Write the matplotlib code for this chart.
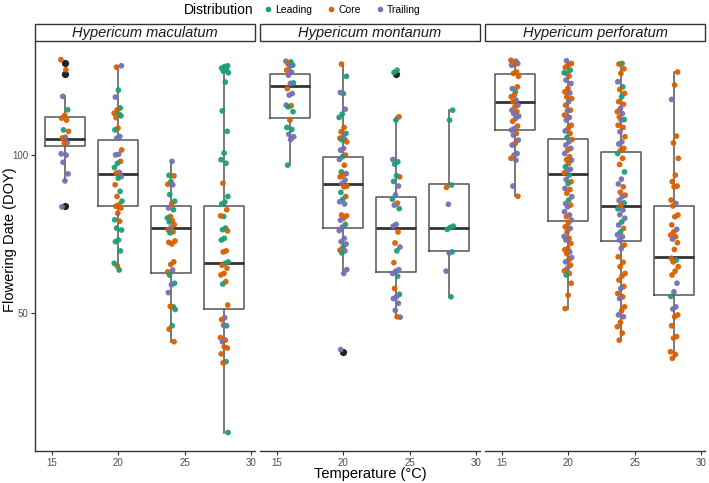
import numpy as np
import matplotlib
matplotlib.use("Agg")
import matplotlib.pyplot as plt
from matplotlib.patches import Rectangle
from matplotlib.lines import Line2D

plt.rcParams['font.family'] = ['Liberation Sans', 'DejaVu Sans']

# ---------------- data ----------------
species = ["Hypericum maculatum", "Hypericum montanum", "Hypericum perforatum"]
temps = [16, 20, 24, 28]
dist_names = ["Leading", "Core", "Trailing"]
dist_colors = {"L": "#1B9E77", "C": "#D95F02", "T": "#7570B3"}
x_ticks = [15, 20, 25, 30]
y_ticks = [50, 100]

# Hypericum maculatum
mac16_doy = [152, 145.4, 129.4, 122, 119, 117.6, 116.6, 111.7, 111, 108.2, 107.8, 105.7, 105.4,
             100.6, 100, 96.9, 92.1, 89.3, 79.7]
mac16_dist = ["C", "C", "T", "L", "C", "C", "C", "L", "C", "T", "C", "T", "C",
              "T", "T", "T", "T", "T", "T"]
mac20_doy = [147.1, 148, 133, 129, 123, 122, 120.2, 119.7, 117.9, 118.8, 112.6, 111.7, 108.5, 107.7,
             102.3, 100.4, 100.1, 97.3, 96.5, 94.7, 92.7, 92.4, 91, 90.4, 87.8, 85.3, 83.4, 81.7,
             80.4, 79.9, 79.3, 77.5, 75.3, 74.8, 72.6, 72, 68.9, 68.4, 65.7, 61.5, 62.2, 60.4]
mac20_dist = ["C", "T", "L", "T", "L", "C", "C", "L", "C", "L", "C", "L", "T", "T",
              "C", "T", "T", "C", "L", "L", "T", "C", "T", "L", "C", "L", "C", "L",
              "C", "C", "C", "C", "L", "C", "L", "L", "L", "L", "L", "C", "L", "L"]
mac24_doy = [97.3, 91.5, 91.3, 89, 88, 87.8, 84.1, 81.7, 80.7, 79.3, 78.7, 76.4, 75.9, 75, 74.6,
             73.7, 72.8, 72.1, 71.4, 71.1, 68.6, 67.7, 68.2, 62.6, 61.9, 59.9, 60.4, 59.1, 57,
             56.6, 54.7, 51.4, 51.5, 50.8, 47.3, 46.6, 44.1]
mac24_dist = ["T", "L", "C", "L", "C", "T", "L", "L", "C", "T", "L", "C", "L", "C", "L",
              "C", "T", "C", "C", "L", "C", "C", "C", "C", "C", "C", "T", "L", "L",
              "T", "T", "L", "C", "L", "L", "C", "C"]
mac28_doy = [148, 147.5, 146.5, 145.5, 144.5, 143.5, 137.8, 121.4, 111, 100.9, 98, 96.5, 88.4, 83.4,
             81.4, 80.7, 78.7, 76.4, 76.6, 72.6, 72.1, 71.7, 69.4, 68.9, 65.7, 65.4, 62.6, 62.2,
             61.7, 60.9, 59.5, 59.1, 57.4, 56.8, 51.8, 49, 48.6, 47.3, 47.4, 44.9, 44.4, 44.1,
             42.9, 43.1, 41.8, 40.4, 40.2, 29.6]
mac28_dist = ["L", "L", "L", "L", "L", "L", "L", "L", "L", "L", "L", "L", "C", "L",
              "L", "L", "C", "L", "C", "L", "L", "C", "L", "L", "C", "C", "L", "L",
              "C", "C", "C", "C", "C", "L", "C", "T", "C", "L", "T", "C", "C", "T",
              "C", "C", "C", "L", "C", "L"]

# Hypericum montanum
mon16_doy = [151, 150.5, 149.5, 148.4, 147.8, 145.2, 144, 142, 137.3, 137, 133.9, 131, 130.1,
             124.5, 124.2, 123.6, 121, 116.6, 112.9, 111.9, 109.6, 108.4, 107.1, 95.7]
mon16_dist = ["T", "L", "C", "L", "T", "C", "T", "T", "L", "T", "C", "T", "T",
              "T", "C", "L", "L", "C", "L", "L", "T", "T", "T", "L"]
mon20_doy = [149.1, 141.3, 131, 131.6, 122.3, 119.7, 118, 112.9, 110.8, 110, 108.2, 107.7, 107.1,
             107, 106, 103, 102.2, 100, 99.3, 98.1, 95.7, 92.9, 92.2, 91.6, 90.9, 89.6, 88.3,
             87.3, 87.0, 84.9, 83.4, 82.4, 81.5, 80.7, 76.9, 76.6, 75.8, 75.2, 73.8, 72.9, 71.8,
             69.4, 68.4, 67.7, 66.7, 65.9, 65.7, 65.1, 60.5, 59.5, 42.6]
mon20_dist = ["C", "L", "L", "T", "T", "L", "L", "C", "C", "L", "T", "C", "T",
              "L", "C", "T", "T", "C", "L", "T", "C", "L", "T", "C", "C", "T", "T",
              "C", "C", "L", "C", "L", "T", "T", "C", "C", "C", "T", "L", "T", "T",
              "T", "T", "T", "L", "C", "T", "L", "T", "T", "T"]
mon24_doy = [145.2, 143.7, 118.3, 116.6, 98.1, 97.1, 96.1, 90.9, 91.4, 89.1, 87.3, 84, 82.4, 81,
             80.3, 79.1, 73.8, 73.2, 71.4, 68, 66.8, 65.7, 62.4, 60.5, 60.1, 59.5, 58.8, 55.7,
             54.3, 53.7, 53.3, 52.2, 50.6, 49.1, 49.2]
mon24_dist = ["L", "L", "C", "L", "T", "L", "L", "C", "L", "L", "T", "T", "L", "C",
              "T", "L", "T", "T", "C", "C", "T", "L", "C", "T", "T", "T", "L", "C",
              "L", "T", "T", "T", "T", "T", "C"]
mon28_doy = [121.8, 116.6, 86.8, 87.7, 80.6, 73.2, 72.8, 72.2, 65.4, 65.1, 60.1, 53.7]
mon28_dist = ["L", "L", "C", "L", "T", "L", "L", "L", "L", "T", "T", "L"]

# Hypericum perforatum
per16_doy = [151.6, 151, 150.5, 149.5, 148.8, 148.4, 144, 143.1, 141.3, 132, 133.9, 134.9, 130.1,
             129.2, 127.3, 126.4, 124.5, 123.6, 121.8, 121, 120, 118.6, 117.5, 116, 113.6, 112.4,
             111.6, 110, 109.2, 106.8, 105.3, 104.5, 100.7, 100, 98.6, 97.8, 87.3, 83.5]
per16_dist = ["C", "T", "C", "T", "C", "T", "C", "C", "C", "L", "T", "C", "C",
              "C", "T", "C", "T", "C", "T", "C", "T", "T", "T", "C", "C", "T",
              "T", "C", "T", "T", "C", "T", "T", "T", "C", "T", "T", "C"]
per20_doy = [151.3, 149.5, 148.4, 147, 145.2, 143.1, 143.5, 141.4, 139, 136.9, 134.0, 132, 131.4,
             129.1, 128.2, 126.4, 124.5, 121.8, 121.5, 119.2, 118, 116.6, 114, 112.4, 111.2,
             110.0, 108.1, 107.1, 106.0, 104.5, 103.0, 102.2, 100.7, 99.3, 98, 97.8, 96.4, 95.0,
             94, 93.6, 92.5, 91.6, 89.9, 89.0, 88.3, 86.4, 86, 84.6, 83.3, 82.1, 80.9, 80.3,
             79.7, 78, 76.9, 76.3, 75.2, 74.3, 73, 72.5, 71.4, 70, 69.4, 68.9, 67.9, 66.4, 66,
             65.4, 64.9, 63.8, 63.1, 62.6, 61.7, 60.9, 60.2, 59.5, 59.1, 57, 54.1, 51.0]
per20_dist = ["T", "C", "C", "C", "L", "T", "L", "C", "T", "T", "C", "C", "T",
              "C", "C", "T", "C", "C", "T", "C", "T", "T", "C", "C", "T",
              "C", "L", "C", "T", "T", "T", "C", "T", "C", "C", "T", "C", "L",
              "T", "T", "C", "L", "T", "C", "L", "T", "C", "C", "T", "L", "T", "C",
              "T", "T", "T", "C", "T", "C", "C", "T", "C", "T", "C", "T", "C", "C", "C",
              "T", "C", "T", "C", "T", "C", "T", "C", "C", "L", "C", "C", "C"]
per24_doy = [149.5, 149.1, 146, 143.1, 138, 134.9, 133.4, 131.1, 129.1, 126.4, 125, 122.7, 121.0,
             120, 118.3, 116.9, 116.6, 114, 112.9, 110.8, 108.4, 106.0, 105, 103.0, 102.2, 100.7,
             98.6, 96, 92.9, 90, 88.1, 87.0, 85, 83.9, 83.3, 82, 81.1, 80.3, 79, 78.6, 77, 75.8,
             74.6, 73.6, 72.5, 71.4, 70.5, 69.9, 68.9, 67.4, 66.4, 64.0, 62.5, 61.3, 59.5, 58.8,
             57.8, 56.2, 55.7, 54.5, 53.7, 53.3, 51.4, 50.5, 49.6, 49.2, 48, 47.1, 45.8, 44.4]
per24_dist = ["L", "C", "C", "C", "T", "L", "C", "C", "L", "C", "C", "T", "C",
              "T", "C", "L", "T", "C", "C", "T", "C", "T", "T", "C", "C", "L",
              "C", "C", "L", "T", "T", "C", "C", "C", "T", "T", "L", "C", "L", "T", "T", "T",
              "L", "T", "C", "L", "T", "T", "T", "C", "T", "C", "C", "C", "C", "C",
              "C", "C", "T", "C", "C", "T", "C", "C", "T", "T", "C", "C", "C", "C"]
per28_doy = [144, 136, 127.7, 108.7, 105.5, 98.6, 91.6, 89, 87.3, 87.0, 82.1, 80.9, 80.0, 76.9,
             76.3, 73.6, 72.2, 71.4, 70.4, 69.9, 69.2, 68.1, 66.1, 63.6, 63.1, 62.6, 61.3, 60.1,
             59.1, 57.0, 54.9, 53.8, 51.4, 50.9, 49.6, 49.2, 47.3, 45.1, 44.8, 42.2, 41.7, 41.0]
per28_dist = ["C", "C", "T", "C", "C", "C", "C", "C", "C", "C", "C", "T", "C", "C",
              "C", "C", "T", "C", "C", "C", "T", "C", "C", "C", "L", "C", "C", "C",
              "C", "T", "T", "L", "T", "T", "C", "C", "C", "C", "C", "C", "C", "C"]

# box statistics (computed on log scale in the original): q1, median, q3, whisker low, whisker high
mac_q1 = [103.9, 80.0, 59.7, 50.9]
mac_med = [107.1, 92.0, 72.6, 62.4]
mac_q3 = [118.0, 107.0, 79.9, 79.9]
mac_wlo = [89.3, 60.4, 44.1, 29.6]
mac_whi = [129.4, 148.0, 97.3, 148.0]
mac_out = [[149.6, 142.8, 79.9], [], [], []]

mon_q1 = [117.8, 72.5, 59.8, 65.7]
mon_med = [135.4, 88.0, 72.5, 72.5]
mon_q3 = [143.0, 99.0, 83.3, 88.0]
mon_wlo = [95.7, 59.3, 49.0, 53.7]
mon_whi = [151.0, 149.1, 118.3, 121.8]
mon_out = [[], [42.2], [143.0], []]

per_q1 = [111.6, 74.9, 68.5, 54.1]
per_med = [126.3, 91.9, 80.1, 64.0]
per_q3 = [143.0, 107.1, 101.2, 80.1]
per_wlo = [83.5, 51.0, 44.4, 41.0]
per_whi = [151.6, 151.3, 149.5, 144.0]
per_out = [[], [], [], []]

points = {
    "Hypericum maculatum": [(mac16_doy, mac16_dist), (mac20_doy, mac20_dist), (mac24_doy, mac24_dist), (mac28_doy, mac28_dist)],
    "Hypericum montanum": [(mon16_doy, mon16_dist), (mon20_doy, mon20_dist), (mon24_doy, mon24_dist), (mon28_doy, mon28_dist)],
    "Hypericum perforatum": [(per16_doy, per16_dist), (per20_doy, per20_dist), (per24_doy, per24_dist), (per28_doy, per28_dist)],
}
boxes = {
    "Hypericum maculatum": (mac_q1, mac_med, mac_q3, mac_wlo, mac_whi, mac_out),
    "Hypericum montanum": (mon_q1, mon_med, mon_q3, mon_wlo, mon_whi, mon_out),
    "Hypericum perforatum": (per_q1, per_med, per_q3, per_wlo, per_whi, per_out),
}

# ---------------- figure ----------------
W, H = 709, 483
fig = plt.figure(figsize=(W / 100, H / 100), dpi=100)

panel_lefts = [35, 260, 485]
panel_w = 220
panel_top, panel_bot = 41, 451
strip_h = 17

tick_color = "#4d4d4d"

for i, sp in enumerate(species):
    ax = fig.add_axes([panel_lefts[i] / W, (H - panel_bot) / H, panel_w / W, (panel_bot - panel_top) / H])
    ax.set_yscale("log")
    ax.set_xlim(13.75, 30.3)
    ax.set_ylim(27.3, 165)

    q1, med, q3, wlo, whi, outs = boxes[sp]
    stats = []
    for j in range(len(temps)):
        stats.append(dict(q1=q1[j], med=med[j], q3=q3[j], whislo=wlo[j], whishi=whi[j], fliers=outs[j]))
    ax.bxp(stats, positions=temps, widths=3.0, showcaps=False, showfliers=True,
           boxprops=dict(color="#555555", lw=1.1),
           whiskerprops=dict(color="#555555", lw=1.1),
           medianprops=dict(color="#333333", lw=2.0),
           flierprops=dict(marker="o", markerfacecolor="#222222", markeredgecolor="none", markersize=5.2),
           zorder=2, manage_ticks=False)

    for j, t in enumerate(temps):
        vals, dists = points[sp][j]
        n = len(vals)
        offs = ((np.arange(n) * 0.618034 + 0.3 * j) % 1.0 - 0.5) * 0.6
        cols = [dist_colors[d] for d in dists]
        ax.scatter(t + offs, vals, s=17, c=cols, edgecolors="none", zorder=3, alpha=0.95)

    for s in ["top", "right"]:
        ax.spines[s].set_visible(False)
    ax.spines["bottom"].set_color("#333333")
    ax.spines["bottom"].set_linewidth(1.0)
    ax.set_xticks(x_ticks)
    ax.set_xticklabels([str(v) for v in x_ticks])
    ax.tick_params(axis="x", length=3, color="#333333", labelsize=7, labelcolor=tick_color, pad=2)
    ax.minorticks_off()
    if i == 0:
        ax.spines["left"].set_color("#333333")
        ax.spines["left"].set_linewidth(1.0)
        ax.set_yticks(y_ticks)
        ax.set_yticklabels([str(v) for v in y_ticks])
        ax.tick_params(axis="y", which="both", length=3, color="#333333", labelsize=7,
                       labelcolor=tick_color, pad=2)
        ax.yaxis.set_minor_locator(matplotlib.ticker.NullLocator())
    else:
        ax.spines["left"].set_visible(False)
        ax.set_yticks([])
        ax.yaxis.set_minor_locator(matplotlib.ticker.NullLocator())

    # strip
    sh = strip_h / (panel_bot - panel_top)
    ax.add_patch(Rectangle((0, 1.0), 1.0, sh, transform=ax.transAxes, clip_on=False,
                           facecolor="white", edgecolor="#333333", lw=1.0, zorder=5))
    ax.text(0.5, 1.0 + sh / 2, sp, transform=ax.transAxes, ha="center", va="center",
            fontsize=10.5, style="italic", color="#1a1a1a", zorder=6)

fig.text(370 / W, 1 - 474 / H, "Temperature (°C)", ha="center", va="center", fontsize=10.5)
fig.text(10 / W, 1 - 240 / H, "Flowering Date (DOY)", ha="center", va="center",
         rotation=90, fontsize=10.5)

# legend
fig.text(184 / W, 1 - 10 / H, "Distribution", ha="left", va="center", fontsize=10)
handles = [Line2D([], [], marker="o", ls="none", markersize=4, markerfacecolor=dist_colors[k],
                  markeredgecolor="none") for k in ["L", "C", "T"]]
fig.legend(handles, dist_names, loc="center left", bbox_to_anchor=(262 / W, 1 - 10 / H), ncol=3,
           frameon=False, fontsize=7.5, handletextpad=0.1, columnspacing=1.2, borderaxespad=0,
           handlelength=1.2, borderpad=0)

fig.savefig("out.png", dpi=100)
